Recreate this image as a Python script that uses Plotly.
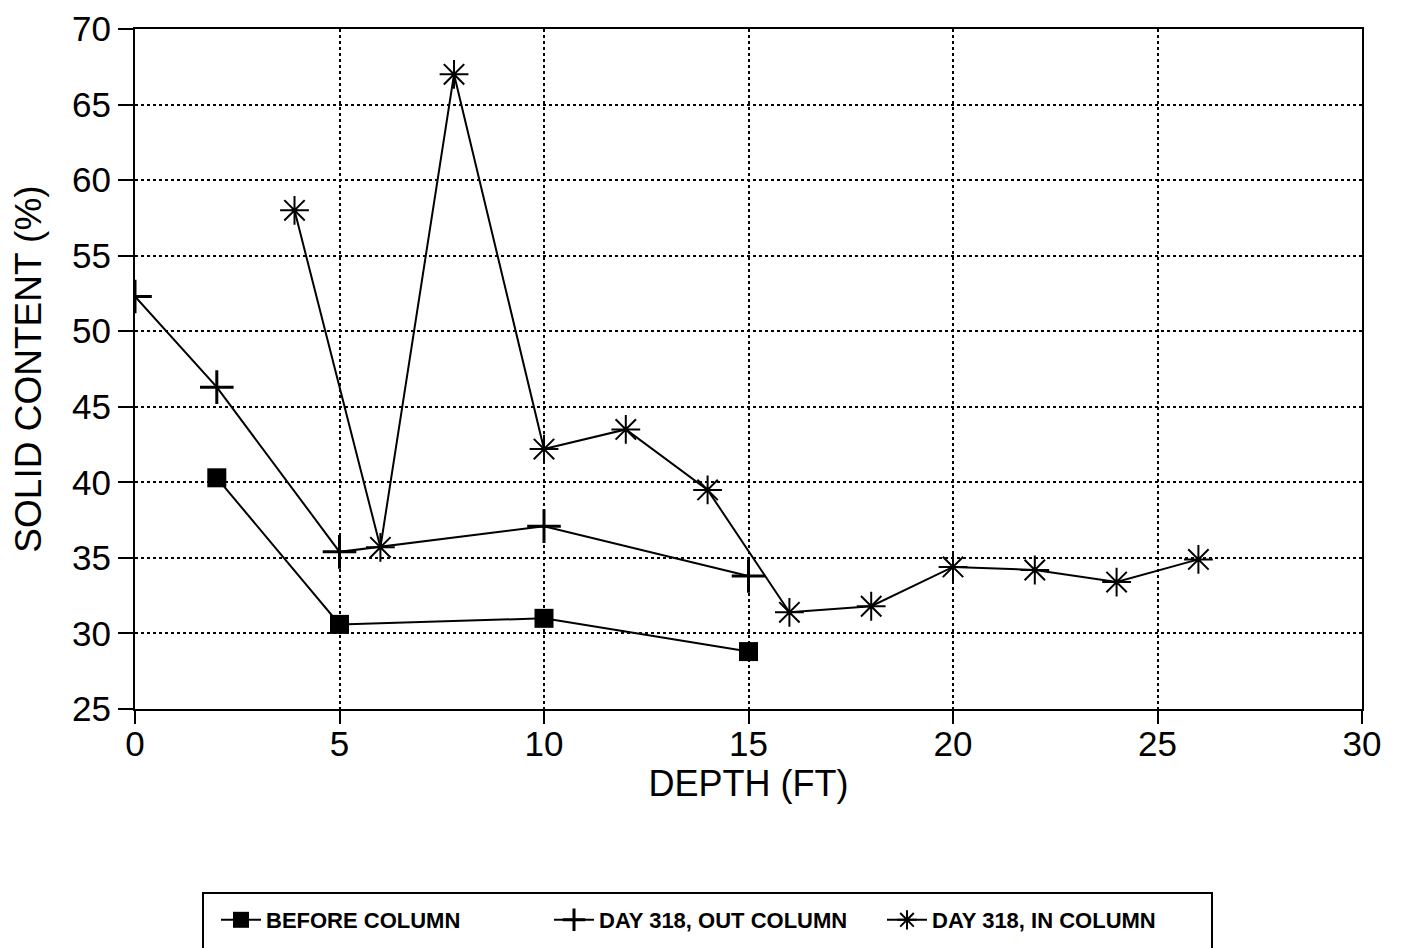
import plotly.graph_objects as go

# Data
before_x = [2, 5, 10, 15]
before_y = [40.3, 30.6, 31.0, 28.8]

out_x = [0, 2, 5, 10, 15]
out_y = [52.3, 46.3, 35.4, 37.1, 33.8]

in_x = [3.9, 6, 7.8, 10, 12, 14, 16, 18, 20, 22, 24, 26]
in_y = [58.0, 35.7, 67.0, 42.2, 43.5, 39.5, 31.4, 31.8, 34.4, 34.2, 33.4, 34.9]

x_ticks = [0, 5, 10, 15, 20, 25, 30]
y_ticks = [25, 30, 35, 40, 45, 50, 55, 60, 65, 70]

names = ["BEFORE COLUMN", "DAY 318, OUT COLUMN", "DAY 318, IN COLUMN"]

W, H = 1402, 948
ML, MR, MT, MB = 127, 48, 21, 247
PW, PH = W - ML - MR, H - MT - MB

fig = go.Figure()
fig.add_trace(go.Scatter(
    x=before_x, y=before_y, name=names[0], mode="lines+markers",
    line=dict(color="black", width=2),
    marker=dict(symbol="square", size=19, color="black"),
))
fig.add_trace(go.Scatter(
    x=out_x, y=out_y, name=names[1], mode="lines+markers",
    line=dict(color="black", width=2),
    marker=dict(symbol="cross-thin", size=24, color="black",
                line=dict(color="black", width=3)),
))
fig.add_trace(go.Scatter(
    x=in_x, y=in_y, name=names[2], mode="lines+markers",
    line=dict(color="black", width=2),
    marker=dict(symbol="asterisk-open", size=24, color="black",
                line=dict(color="black", width=2)),
))

tick_font = dict(family="Liberation Sans, Arial, sans-serif", size=35, color="black")
title_font = dict(family="Liberation Sans, Arial, sans-serif", size=36, color="black")

fig.update_layout(
    width=W, height=H,
    margin=dict(l=ML, r=MR, t=MT, b=MB),
    paper_bgcolor="white", plot_bgcolor="white",
    font=tick_font,
    showlegend=True,
    legend=dict(
        orientation="h",
        x=81 / PW, y=-190 / PH, xanchor="left", yanchor="top",
        font=dict(family="Liberation Sans, Arial", size=22, color="black", weight="bold"),
        entrywidth=278, entrywidthmode="pixels",
        bgcolor="rgba(0,0,0,0)",
        itemwidth=40,
    ),
    shapes=[dict(
        type="rect", xref="paper", yref="paper",
        x0=68 / PW, x1=1077 / PW,
        y0=-0.45, y1=-184 / PH,
        line=dict(color="black", width=2), fillcolor="rgba(0,0,0,0)",
        layer="below",
    )],
)

fig.update_xaxes(
    range=[0, 30], tickvals=x_ticks, ticktext=[str(v) for v in x_ticks],
    showgrid=True, gridcolor="black", griddash="dot", gridwidth=1.5,
    showline=True, linecolor="black", linewidth=2, mirror=True,
    ticks="outside", ticklen=13, tickwidth=2, tickcolor="black",
    ticklabelstandoff=-10, ticklabeloverflow="allow",
    zeroline=False, automargin=False,
    title=dict(text="DEPTH (FT)", font=title_font, standoff=4),
    tickfont=tick_font,
)
fig.update_yaxes(
    range=[25, 70], tickvals=y_ticks, ticktext=[str(v) for v in y_ticks],
    showgrid=True, gridcolor="black", griddash="dot", gridwidth=1.5,
    showline=True, linecolor="black", linewidth=2, mirror=True,
    ticks="outside", ticklen=15, tickwidth=2, tickcolor="black",
    ticklabeloverflow="allow",
    zeroline=False, automargin=False,
    title=dict(text="SOLID CONTENT (%)", font=dict(family="Liberation Sans, Arial, sans-serif", size=37, color="black"), standoff=20),
    tickfont=tick_font,
)

fig.write_html("out.html")
